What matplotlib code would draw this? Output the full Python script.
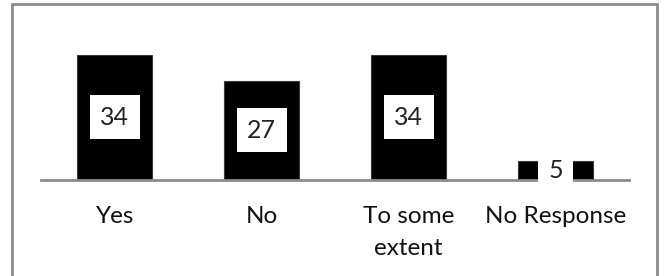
import matplotlib
matplotlib.use("Agg")
import matplotlib.pyplot as plt
from matplotlib.patches import Rectangle

categories = ["Yes", "No", "To some\nextent", "No Response"]
values = [34, 27, 34, 5]

plt.rcParams['font.family'] = ['Lato', 'DejaVu Sans']

fig = plt.figure(figsize=(6.65, 2.76), dpi=100)
ax = fig.add_axes([41.3 / 665, 96.3 / 276, 587.7 / 665, 146.7 / 276])

x = list(range(len(categories)))
bars = ax.bar(x, values, width=0.51, color='black', edgecolor='#3a3a3a', linewidth=0.8, zorder=2)

ax.set_xlim(-0.5, len(categories) - 0.5)
ax.set_ylim(0, 40)

for xi, v in zip(x, values):
    ax.text(xi, v / 2, str(v), ha='center', va='center', fontsize=18, color='#222222',
            zorder=4,
            bbox=dict(boxstyle='square,pad=0.42', facecolor='white', edgecolor='none'))

for s in ['top', 'right', 'left']:
    ax.spines[s].set_visible(False)
ax.spines['bottom'].set_color('#8c8c8c')
ax.spines['bottom'].set_linewidth(2)
ax.spines['bottom'].set_zorder(3)
ax.set_yticks([])
ax.set_xticks(x)
ax.set_xticklabels(categories, fontsize=17.5, color='#111111', linespacing=1.62)
ax.tick_params(axis='x', length=0, pad=19)

fig.patches.append(Rectangle((12 / 665, -0.05), (656.7 - 12) / 665, 1.05 - 3.5 / 276,
                             transform=fig.transFigure, fill=False,
                             edgecolor='#8c8c8c', linewidth=2, zorder=10))

fig.savefig("out.png", dpi=100)
